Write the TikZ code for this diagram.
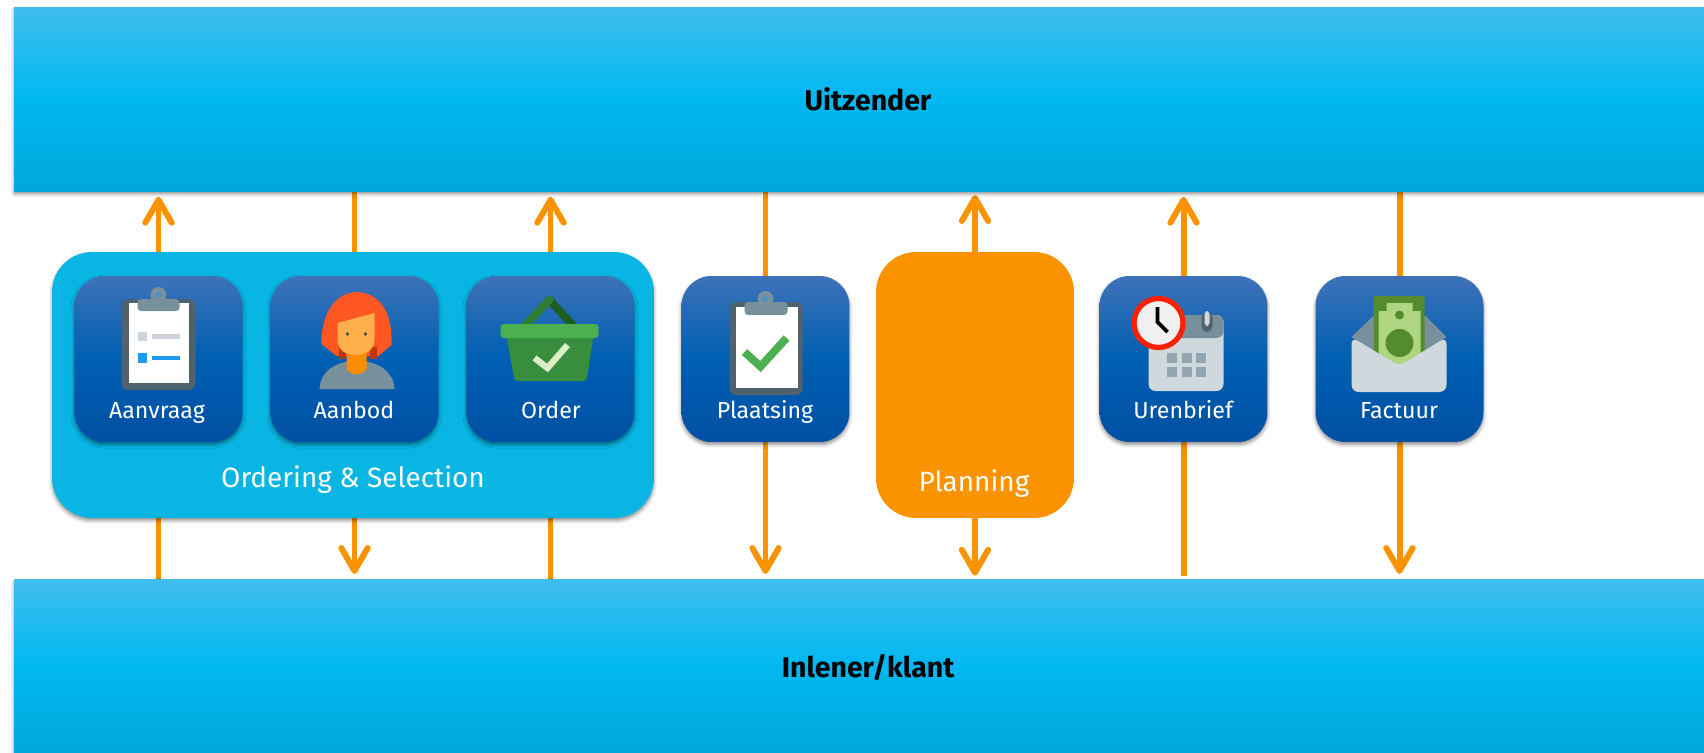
\documentclass[tikz,border=0pt]{standalone}
\usepackage{fontspec}
\setmainfont{Fira Sans}
\usetikzlibrary{arrows.meta,backgrounds,shadows.blur}

\definecolor{barTop}{HTML}{40BDEE}
\definecolor{barMid}{HTML}{00B8F0}
\definecolor{barBot}{HTML}{00A6DA}
\definecolor{tileTop}{HTML}{3E72B8}
\definecolor{tileMid}{HTML}{005FB2}
\definecolor{tileBot}{HTML}{0050A4}
\definecolor{groupBlue}{HTML}{08B5E3}
\definecolor{flowOrange}{HTML}{FB9300}
\definecolor{slate}{HTML}{4F626E}
\definecolor{steel}{HTML}{78909C}
\definecolor{paleSteel}{HTML}{CFD8DC}
\definecolor{hairRed}{HTML}{FF5722}
\definecolor{hairDark}{HTML}{BF360C}
\definecolor{skin}{HTML}{FFB04A}
\definecolor{neck}{HTML}{FB8C00}
\definecolor{leafA}{HTML}{4CAF50}
\definecolor{leafB}{HTML}{388E3C}
\definecolor{leafC}{HTML}{2E7D32}
\definecolor{leafD}{HTML}{1B5E20}
\definecolor{checkPale}{HTML}{DCEDC8}
\definecolor{billDark}{HTML}{558B2F}
\definecolor{billLight}{HTML}{AED581}
\definecolor{listBlue}{HTML}{1E9BF0}
\definecolor{listGrey}{HTML}{CDD3D8}

\begin{document}
\begin{tikzpicture}[x=0.02cm,y=-0.02cm,
    softshadow/.style={blur shadow={shadow xshift=0pt,shadow yshift=-1.5pt,shadow blur radius=2pt,shadow opacity=45}},
    bar/.style={rectangle,minimum width=34.16cm,top color=barTop,
        bottom color=barBot,middle color=barMid,softshadow,font=\fontsize{16.2}{18}\bfseries},
    tile/.style={rectangle,rounded corners=0.6cm,minimum width=3.36cm,minimum height=3.32cm,
        top color=tileTop,bottom color=tileBot,middle color=tileMid,softshadow},
    tilelabel/.style={text=white,inner sep=0pt,anchor=base,font=\fontsize{13.2}{15}\selectfont},
    biglabel/.style={text=white,inner sep=0pt,anchor=base,font=\fontsize{15.9}{18}\selectfont}]
\useasboundingbox (0,0) rectangle (1704,753);

\begin{scope}
    \node[bar,minimum height=3.68cm] (uitzender) at (868,99.3) {Uitzender};
    \node[bar,minimum height=3.5cm] (inlener) at (868,667) {Inlener/klant};

    \node[rectangle,rounded corners=0.8cm,minimum width=12.04cm,minimum height=5.32cm,
          fill=groupBlue,softshadow] (ordering) at (353,385) {};
    \node[biglabel] (orderinglabel) at (353,487) {Ordering \& Selection};

    \node[tile] (aanvraag) at (158.5,359) {};
    \node[tile] (aanbod) at (354.5,359) {};
    \node[tile] (order) at (550.5,359) {};
    \node[tile] (plaatsing) at (765.5,359) {};
    \node[tile] (urenbrief) at (1183.5,359) {};
    \node[tile] (factuur) at (1399.5,359) {};

    \node[rectangle,rounded corners=0.8cm,minimum width=3.96cm,minimum height=5.32cm,
          fill=flowOrange] (planning) at (975,385) {};
    \node[biglabel] (planninglabel) at (974,491) {Planning};

    \node[tilelabel] (aanvraaglabel) at (157,418) {Aanvraag};
    \node[tilelabel] (aanbodlabel) at (354,418) {Aanbod};
    \node[tilelabel] (orderlabel) at (551,418) {Order};
    \node[tilelabel] (plaatsinglabel) at (765,418) {Plaatsing};
    \node[tilelabel] (urenbrieflabel) at (1183,418) {Urenbrief};
    \node[tilelabel] (factuurlabel) at (1399,418) {Factuur};
\end{scope}

% flows run behind the boxes
\begin{scope}[on background layer,
              >={Straight Barb[round,length=13pt,width=15pt]},
              every edge/.style={draw=flowOrange,line width=3.4pt},
              shorten >=3pt]
    \path [->] (inlener.north -| aanvraag) edge (uitzender.south -| aanvraag);
    \path [->] (uitzender.south -| aanbod) edge[shorten >=3pt] (inlener.north -| aanbod);
    \path [->] (inlener.north -| order) edge (uitzender.south -| order);
    \path [->] (uitzender.south -| plaatsing) edge[shorten >=3pt] (inlener.north -| plaatsing);
    \path [->] (planning.north) edge[shorten >=2pt] (uitzender.south -| planning);
    \path [->] (planning.south) edge[shorten >=2pt] (inlener.north -| planning);
    \path [->] (urenbrief |- inlener.north) edge[shorten <=2pt] (uitzender.south -| urenbrief);
    \path [->] (uitzender.south -| factuur) edge[shorten >=3pt] (inlener.north -| factuur);
\end{scope}

% clipboard with list
\begin{scope}[shift={(aanvraag.center)}]
    \fill[slate,rounded corners=4pt] (-37,-60) rectangle (37,31);
    \fill[white] (-30,-56) rectangle (30,24);
    \fill[steel] (0,-64) circle (8);
    \fill[tileMid!70!white] (0,-64) circle (3);
    \fill[steel,rounded corners=2pt] (-21,-60) rectangle (21,-48);
    \fill[listGrey] (-21,-27) rectangle (-12,-18);
    \fill[listGrey] (-7,-25) rectangle (21,-20);
    \fill[listBlue] (-21,-6) rectangle (-12,4);
    \fill[listBlue] (-7,-3) rectangle (21,1);
\end{scope}

% person
\begin{scope}[shift={(aanbod.center)}]
    \fill[steel] (-35,30) .. controls (-34,12) and (-20,3) .. (3,1)
        .. controls (24,3) and (39,12) .. (40,30) -- cycle;
    \fill[hairRed] (2,-67) .. controls (-25,-66) and (-34,-35) .. (-33,-15)
        -- (-18,-3) -- (24,-3) -- (37,-14) .. controls (38,-40) and (30,-66) .. (2,-67);
    \fill[hairDark] (-16,-12) rectangle (-9,0);
    \fill[hairDark] (15,-12) rectangle (22,0);
    \fill[neck] (-8,-8) -- (12,-8) -- (12,10) .. controls (8,17) and (-3,17) .. (-8,10) -- cycle;
    \fill[skin] (-17,-36) -- (20,-46) -- (20,-20) .. controls (20,-8) and (10,-4) .. (2,-4)
        .. controls (-8,-4) and (-17,-8) .. (-17,-20) -- cycle;
    \fill[black!70] (-7,-25) circle (1.8);
    \fill[black!70] (11,-25) circle (1.8);
\end{scope}

% basket
\begin{scope}[shift={(order.center)}]
    \draw[leafD,line width=4.5pt,line cap=round] (-1,-59) -- (24,-32);
    \draw[leafC,line width=4.5pt,line cap=round] (-1,-59) -- (-27,-32);
    \fill[leafB,rounded corners=2pt] (-44,-24) -- (43,-24) -- (36,22) -- (-36,22) -- cycle;
    \fill[leafA,rounded corners=2pt] (-50,-35) rectangle (48,-21);
    \draw[checkPale,line width=3.6pt] (-16,-1) -- (-3,9) -- (17,-14);
\end{scope}

% clipboard with check
\begin{scope}[shift={(plaatsing.center)}]
    \fill[slate,rounded corners=4pt] (-36,-57) rectangle (37,36);
    \fill[white] (-30,-52) rectangle (32,29);
    \fill[steel] (0,-60) circle (8);
    \fill[tileMid!70!white] (0,-60) circle (3);
    \fill[steel,rounded corners=2pt] (-21,-57) rectangle (22,-44);
    \draw[leafA,line width=4.5pt] (-21,-7) -- (-5,7.5) -- (21,-21);
\end{scope}

% calendar and clock
\begin{scope}[shift={(urenbrief.center)}]
    \fill[paleSteel,rounded corners=4pt] (-35,-44) rectangle (40,32);
    \fill[steel,rounded corners=4pt] (-35,-44) rectangle (40,-21);
    \fill[slate,rounded corners=3pt] (18,-47) rectangle (29,-27);
    \fill[paleSteel,rounded corners=2pt] (21,-48) rectangle (26,-33);
    \foreach \col in {-12,3,17} {
        \foreach \row in {-1,13} {
            \fill[steel!80!white] (\col-5,\row-5) rectangle (\col+5,\row+5);
        }
    }
    \fill[gray!12,draw=red!75!orange,line width=3pt] (-25,-36) circle (24.5);
    \draw[black,line width=2.2pt] (-26,-52) -- (-26,-37) -- (-16,-27);
\end{scope}

% envelope with banknote
\begin{scope}[shift={(factuur.center)}]
    \fill[steel] (-48,-22) -- (-26,-43) -- (26,-43) -- (47,-22) -- (0,10) -- cycle;
    \fill[billDark] (-26,-63) rectangle (25,-8) -- (0,10) -- (-26,-8) -- cycle;
    \fill[billLight] (-21,-48) -- (-13,-48) -- (-13,-56) -- (13,-56) -- (13,-48) -- (21,-48) -- (21,12) -- (-21,12) -- cycle;
    \fill[billDark] (0,-44) circle (4.5);
    \fill[billDark] (0,-16) circle (14);
    \fill[paleSteel,rounded corners=4pt] (-48,-22) -- (0,7) -- (47,-22) -- (47,33) -- (-48,33) -- cycle;
\end{scope}
\end{tikzpicture}
\end{document}
